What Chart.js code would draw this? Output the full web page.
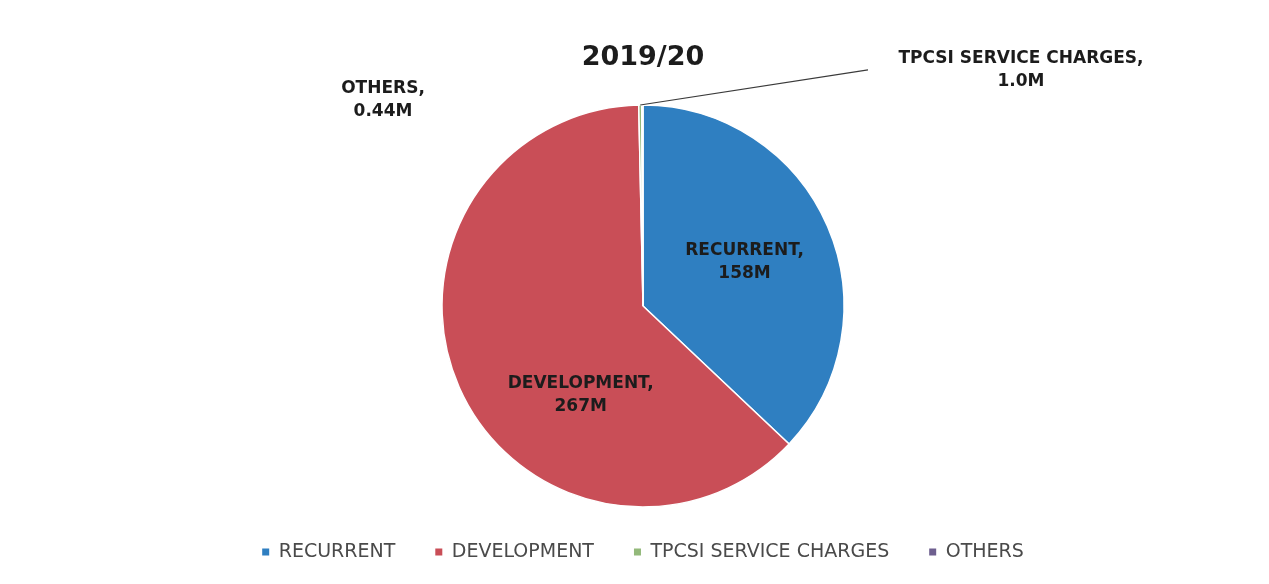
<!DOCTYPE html>
<html>
<head>
<meta charset="utf-8">
<title>2019/20</title>
<script src="https://cdn.jsdelivr.net/npm/chart.js@4.4.1/dist/chart.umd.min.js"></script>
<style>
  html, body { margin: 0; padding: 0; background: #fff; }
  #wrap { width: 1269px; height: 584px; position: relative; }
</style>
</head>
<body>
<div id="wrap"><canvas id="budgetChart"></canvas></div>
<script>
const chartTitle = '2019/20';
const categories = ['RECURRENT', 'DEVELOPMENT', 'TPCSI SERVICE CHARGES', 'OTHERS'];
const amounts = [158, 267, 1.0, 0.44]; // millions
const valueLabels = ['158M', '267M', '1.0M', '0.44M'];
const sliceColors = ['#2f7fc1', '#c94e57', '#93b97a', '#6e5f8f'];

// where each data label sits, relative to the pie centre
const labelPlacement = [
    { inside: true, r: 0.55 },                 // mid angle of the slice
    { inside: true, r: 0.54, angle: 215 },     // degrees clockwise from top
    { inside: false, dx: 378, dy: -236, leader: { dx: 225, dy: -236 } },
    { inside: false, dx: -260, dy: -206 }
];

const sliceLabels = {
    id: 'sliceLabels',
    afterDatasetsDraw(chart) {
        const ctx = chart.ctx;
        const arcs = chart.getDatasetMeta(0).data;
        ctx.save();
        ctx.font = 'bold 17px "DejaVu Sans", sans-serif';
        ctx.textAlign = 'center';
        ctx.textBaseline = 'middle';
        arcs.forEach((arc, i) => {
            const p = labelPlacement[i];
            const mid = (arc.startAngle + arc.endAngle) / 2;
            let x, y;
            if (p.inside) {
                const a = p.angle !== undefined ? (p.angle - 90) * Math.PI / 180 : mid;
                x = arc.x + Math.cos(a) * arc.outerRadius * p.r;
                y = arc.y + Math.sin(a) * arc.outerRadius * p.r;
            } else {
                x = arc.x + p.dx;
                y = arc.y + p.dy;
                if (p.leader) {
                    ctx.beginPath();
                    ctx.moveTo(arc.x + Math.cos(mid) * arc.outerRadius, arc.y + Math.sin(mid) * arc.outerRadius);
                    ctx.lineTo(arc.x + p.leader.dx, arc.y + p.leader.dy);
                    ctx.strokeStyle = '#3a3a3a';
                    ctx.lineWidth = 1.2;
                    ctx.stroke();
                }
            }
            ctx.fillStyle = '#1c1c1c';
            ctx.fillText(categories[i] + ',', x, y - 11.5);
            ctx.fillText(valueLabels[i], x, y + 11.5);
        });
        ctx.restore();
    }
};

// legend boxes without the white slice border
const defaultLabels = Chart.overrides.pie.plugins.legend.labels.generateLabels;

new Chart(document.getElementById('budgetChart'), {
    type: 'pie',
    data: {
        labels: categories,
        datasets: [{
            data: amounts,
            backgroundColor: sliceColors,
            borderColor: '#ffffff',
            borderWidth: 1.5,
            hoverOffset: 0,
            radius: 201,
            clip: false
        }]
    },
    options: {
        responsive: true,
        maintainAspectRatio: false,
        animation: false,
        layout: { padding: { top: 22, bottom: 12.5, left: 17, right: 0 } },
        plugins: {
            title: {
                display: true,
                text: chartTitle,
                color: '#1c1c1c',
                font: { family: '"DejaVu Sans", sans-serif', size: 27, weight: 'bold' },
                padding: { top: 20, bottom: 35 }
            },
            legend: {
                position: 'bottom',
                labels: {
                    boxWidth: 7,
                    boxHeight: 7,
                    padding: 40,
                    color: '#4a4a4a',
                    font: { family: '"DejaVu Sans", sans-serif', size: 19 },
                    generateLabels: (chart) => defaultLabels(chart).map(item => ({ ...item, lineWidth: 0 }))
                }
            },
            tooltip: { enabled: false }
        }
    },
    plugins: [sliceLabels]
});
</script>
</body>
</html>
